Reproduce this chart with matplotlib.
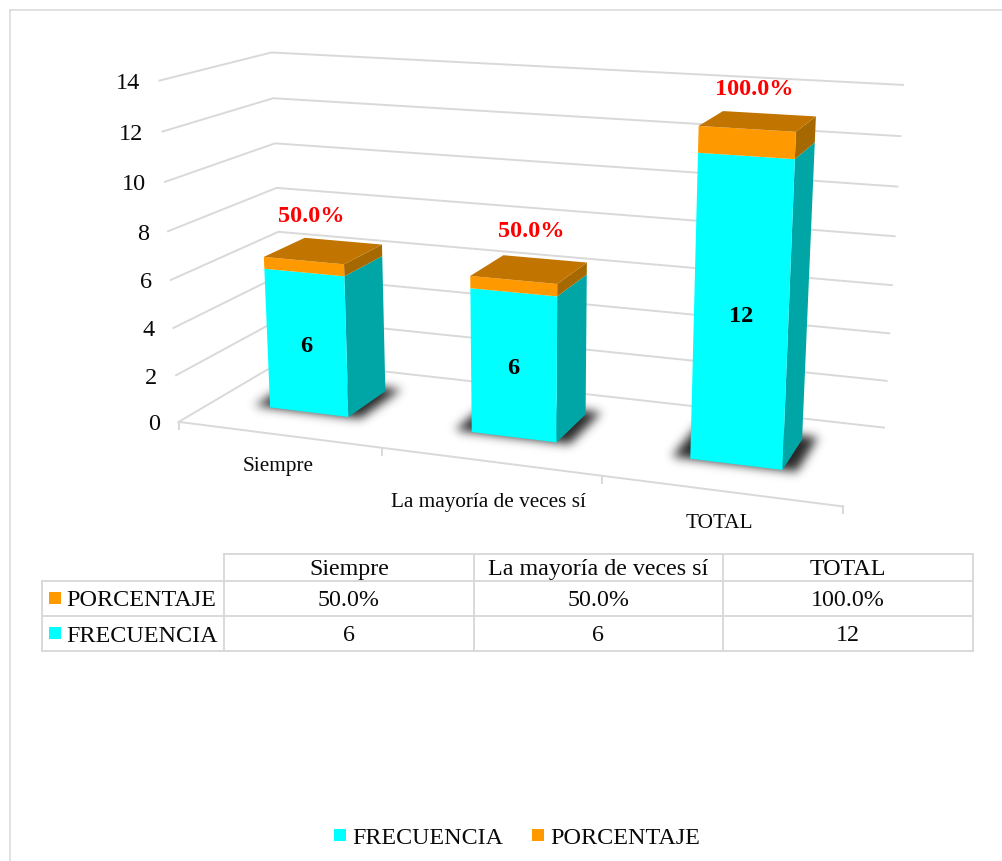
import matplotlib
matplotlib.use('Agg')
from matplotlib import pyplot as plt
from matplotlib.patches import Polygon, Rectangle
from matplotlib.path import Path
import numpy as np

categories = ['Siempre', 'La mayoría de veces sí', 'TOTAL']
frecuencia = [6, 6, 12]
porcentaje = [0.5, 0.5, 1.0]
porcentaje_labels = ['50.0%', '50.0%', '100.0%']
y_ticks = [0, 2, 4, 6, 8, 10, 12, 14]

CYAN = '#00ffff'
CYAN_SIDE = '#00a6a6'
ORANGE = '#ff9900'
ORANGE_TOP = '#c27400'
ORANGE_SIDE = '#a66800'
GRID = '#d9d9d9'
TEXT = '#0a0a0a'
TXT_DY = 3  # va='center' sits a bit high with this font

plt.rcParams['font.family'] = ['Liberation Serif', 'DejaVu Serif']

# frame corners of the 3d box: (category pos, depth, value) -> picture pixels
box_points = [(0, 0, 0), (3, 0, 0), (0, 1, 0), (3, 1, 0), (0, 0, 14), (0, 1, 14), (3, 1, 14)]
box_pixels = [(179, 421), (843, 507), (283, 361), (884, 427), (159, 81), (272, 52), (903, 85)]


def fit_camera(points, pixels):
    rows = []
    rhs = []
    for (x, z, v), (px, py) in zip(points, pixels):
        rows.append([x, z, v, 1, 0, 0, 0, 0, -px * x, -px * z, -px * v])
        rows.append([0, 0, 0, 0, x, z, v, 1, -py * x, -py * z, -py * v])
        rhs += [px, py]
    sol = np.linalg.lstsq(np.array(rows, float), np.array(rhs, float), rcond=None)[0]
    return np.append(sol, 1).reshape(3, 4)


camera = fit_camera(box_points, box_pixels)


def project(x, z, v):
    p = camera @ np.array([x, z, v, 1.0])
    return p[0] / p[2], p[1] / p[2]


def draw_block(ax, x0, x1, z0, z1, v0, v1, front, side, top=None):
    ax.add_patch(Polygon([project(x1, z0, v0), project(x1, z1, v0), project(x1, z1, v1), project(x1, z0, v1)],
                         fc=side, ec='none', zorder=5))
    ax.add_patch(Polygon([project(x0, z0, v0), project(x1, z0, v0), project(x1, z0, v1), project(x0, z0, v1)],
                         fc=front, ec='none', zorder=5))
    if top is not None:
        ax.add_patch(Polygon([project(x0, z0, v1), project(x1, z0, v1), project(x1, z1, v1), project(x0, z1, v1)],
                             fc=top, ec='none', zorder=5))


def draw_shadow(ax, corners, sigma=5.0, strength=0.85):
    # blurred polygon, drawn as an rgba image over its own small pixel box
    xs, ys = zip(*corners)
    pad = int(sigma * 4)
    left, right = int(min(xs)) - pad, int(max(xs)) + pad
    up, down = int(min(ys)) - pad, int(max(ys)) + pad
    gx, gy = np.meshgrid(np.arange(left, right) + 0.5, np.arange(up, down) + 0.5)
    grid = np.column_stack([gx.ravel(), gy.ravel()])
    mask = Path(corners).contains_points(grid).reshape(gx.shape).astype(float)
    k = np.exp(-0.5 * (np.arange(-pad, pad + 1) / sigma) ** 2)
    k /= k.sum()
    mask = np.apply_along_axis(lambda r: np.convolve(r, k, mode='same'), 1, mask)
    mask = np.apply_along_axis(lambda c: np.convolve(c, k, mode='same'), 0, mask)
    rgba = np.zeros(mask.shape + (4,))
    rgba[..., 3] = np.clip(mask * strength, 0, 1)
    ax.imshow(rgba, extent=(left, right, down, up), origin='upper', aspect='auto', zorder=2, interpolation='bilinear')


fig = plt.figure(figsize=(10.03, 8.61), dpi=100)
ax = fig.add_axes([0, 0, 1, 1])
ax.axis('off')

# outer chart border, only left and top show
ax.plot([10, 10], [861, 10], color=GRID, lw=1.1)
ax.plot([10, 1003], [10, 10], color=GRID, lw=1.1)

# walls
for v in y_ticks:
    pts = [project(0, 0, v), project(0, 1, v), project(3, 1, v)]
    ax.plot([p[0] for p in pts], [p[1] for p in pts], color=GRID, lw=1.4, zorder=1)
    fx, fy = project(0, 0, v)
    ax.text(fx - 19, fy + TXT_DY, str(v), ha='right', va='center', fontsize=17.5, color=TEXT)

# floor front edge and ticks
pts = [project(0, 0, 0), project(3, 0, 0)]
ax.plot([p[0] for p in pts], [p[1] for p in pts], color=GRID, lw=1.4, zorder=1)
for i in range(4):
    fx, fy = project(i, 0, 0)
    ax.plot([fx, fx], [fy, fy + 7], color=GRID, lw=1.4, zorder=1)

bar_w = 0.398
bar_shift = -0.012
z0, z1 = 0.32, 0.72
pct_dx = [-32, -14, -15]
pct_dy = [-28, -30, -27]

for i in range(3):
    x0 = i + 0.5 + bar_shift - bar_w / 2
    x1 = i + 0.5 + bar_shift + bar_w / 2
    draw_shadow(ax, [project(x0 - 0.08, z0 + 0.0, 0), project(x1 + 0.06, z0 + 0.0, 0),
                     project(x1 + 0.06, z1 + 0.05, 0), project(x0 - 0.08, z1 + 0.05, 0)])

    f = frecuencia[i]
    t = f + porcentaje[i]
    draw_block(ax, x0, x1, z0, z1, 0, f, CYAN, CYAN_SIDE)
    draw_block(ax, x0, x1, z0, z1, f, t, ORANGE, ORANGE_SIDE, ORANGE_TOP)

    lx, ly = project((x0 + x1) / 2, z0, f / 2)
    ax.text(lx, ly + TXT_DY, str(f), ha='center', va='center', fontsize=17.5, fontweight='bold', color='black', zorder=6)
    tx, ty = project((x0 + x1) / 2, z1, t)
    ax.text(tx + pct_dx[i], ty + pct_dy[i] + TXT_DY, porcentaje_labels[i], ha='center', va='center', fontsize=17.5,
            fontweight='bold', color='red', zorder=6)

# category labels under the floor
cat_x = [278, 488, 719]
cat_y = [463, 499, 520]
for name, cx, cy in zip(categories, cat_x, cat_y):
    ax.text(cx, cy + TXT_DY, name, ha='center', va='center', fontsize=15.3, color=TEXT)

# data table
col_x = [42, 224, 474, 723, 973]
row_y = [554, 581, 616, 651]
for y in row_y[1:]:
    ax.plot([col_x[0], col_x[-1]], [y, y], color=GRID, lw=1.4)
ax.plot([col_x[1], col_x[-1]], [row_y[0], row_y[0]], color=GRID, lw=1.4)
ax.plot([col_x[0], col_x[0]], [row_y[1], row_y[3]], color=GRID, lw=1.4)
for x in col_x[1:]:
    ax.plot([x, x], [row_y[0], row_y[3]], color=GRID, lw=1.4)

table_rows = [categories, porcentaje_labels, [str(f) for f in frecuencia]]
for r, row in enumerate(table_rows):
    yc = (row_y[r] + row_y[r + 1]) / 2 + TXT_DY - 1
    for c, val in enumerate(row):
        ax.text((col_x[c + 1] + col_x[c + 2]) / 2, yc, val, ha='center', va='center', fontsize=17.3, color=TEXT)

ax.add_patch(Rectangle((49, 592), 12, 12, fc=ORANGE, ec='none'))
ax.text(66, 597 + TXT_DY, 'PORCENTAJE', ha='left', va='center', fontsize=17.4, color=TEXT)
ax.add_patch(Rectangle((49, 627), 12, 12, fc=CYAN, ec='none'))
ax.text(66, 633 + TXT_DY, 'FRECUENCIA', ha='left', va='center', fontsize=17.4, color=TEXT)

# legend
ax.add_patch(Rectangle((334, 829), 12, 12, fc=CYAN, ec='none'))
ax.text(352, 835 + TXT_DY, 'FRECUENCIA', ha='left', va='center', fontsize=17.3, color=TEXT)
ax.add_patch(Rectangle((532, 829), 12, 12, fc=ORANGE, ec='none'))
ax.text(550, 835 + TXT_DY, 'PORCENTAJE', ha='left', va='center', fontsize=17.4, color=TEXT)

# imshow resets the limits, so fix them last
ax.set_xlim(0, 1003)
ax.set_ylim(861, 0)

fig.savefig('out.png', dpi=100)
